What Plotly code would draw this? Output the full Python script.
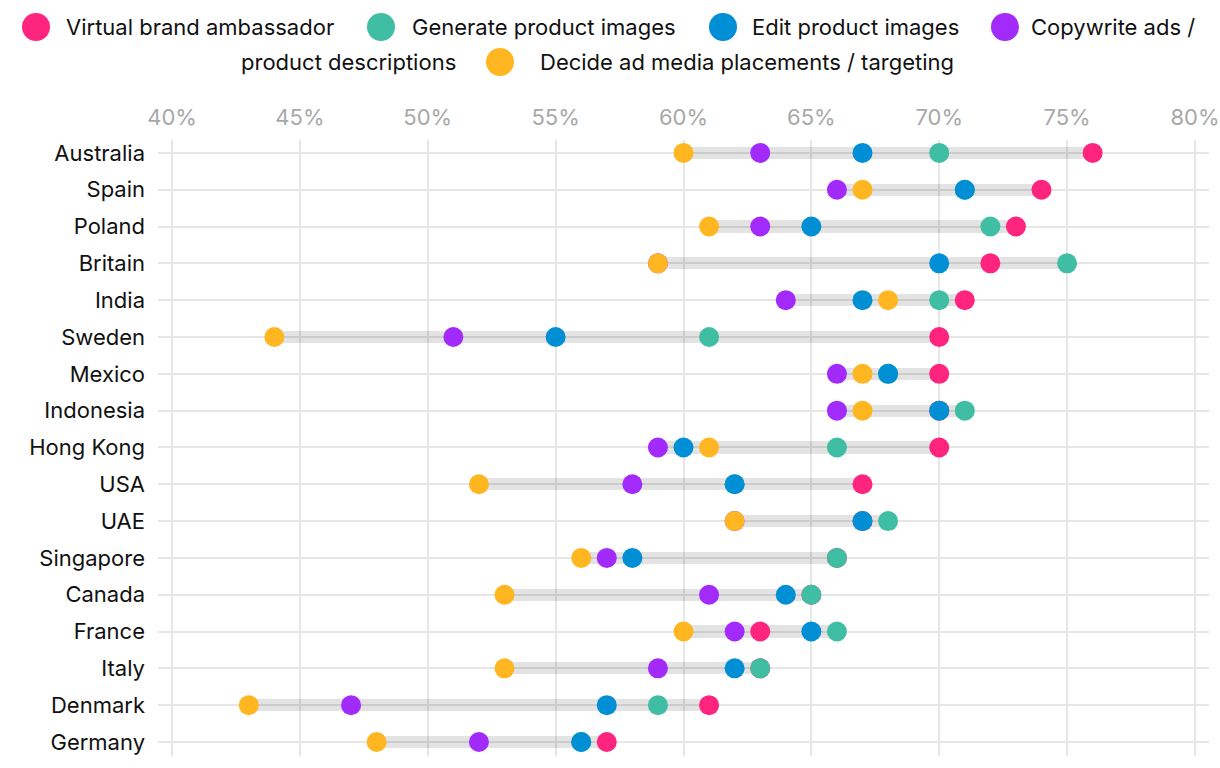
import plotly.graph_objects as go

countries = ["Australia", "Spain", "Poland", "Britain", "India", "Sweden", "Mexico",
             "Indonesia", "Hong Kong", "USA", "UAE", "Singapore", "Canada", "France",
             "Italy", "Denmark", "Germany"]
ambassador = [76, 74, 73, 72, 71, 70, 70, 70, 70, 67, 67, 66, 65, 63, 63, 61, 57]
generate = [70, 71, 72, 75, 70, 61, 68, 71, 66, 62, 68, 66, 65, 66, 63, 59, 56]
edit = [67, 71, 65, 70, 67, 55, 68, 70, 60, 62, 67, 58, 64, 65, 62, 57, 56]
copywrite = [63, 66, 63, 59, 64, 51, 66, 66, 59, 58, 62, 57, 61, 62, 59, 47, 52]
placements = [60, 67, 61, 59, 68, 44, 67, 67, 61, 52, 62, 56, 53, 60, 53, 43, 48]

series_names = ["Virtual brand ambassador", "Generate product images", "Edit product images",
                "Copywrite ads / product descriptions", "Decide ad media placements / targeting"]
series_values = [ambassador, generate, edit, copywrite, placements]
colors = ["#ff247e", "#40bea3", "#008fd5", "#a22bfb", "#ffb620"]

tick_values = [40, 45, 50, 55, 60, 65, 70, 75, 80]
tick_labels = ["40%", "45%", "50%", "55%", "60%", "65%", "70%", "75%", "80%"]

FONT = "Inter, 'Open Sans', sans-serif"
W, H = 1220, 764
L, T = 158, 140
PW, PH = 1051, 616
R, B = W - L - PW, H - T - PH


def px(x):
    return (x - L) / PW


def py(y):
    return (T + PH - y) / PH


fig = go.Figure()

lows = [min(v) for v in zip(*series_values)]
highs = [max(v) for v in zip(*series_values)]
fig.add_trace(go.Bar(
    y=countries, x=[h - l for h, l in zip(highs, lows)], base=lows, orientation="h",
    width=0.33, marker=dict(color="rgba(0,0,0,0.11)", line=dict(width=0)),
    showlegend=False, hoverinfo="skip"))

for name, vals, col in zip(series_names, series_values, colors):
    fig.add_trace(go.Scatter(
        x=vals, y=countries, mode="markers", name=name,
        marker=dict(size=20, color=col, line=dict(width=0)),
        showlegend=False))

# manual legend: (circle x, row y, text centre x, text, colour index)
legend_rows = [
    (36, 27, 200, "Virtual brand ambassador", 0),
    (381, 27, 543.5, "Generate product images", 1),
    (723, 27, 855, "Edit product images", 2),
    (1005, 27, 1112.5, "Copywrite ads /", 3),
    (500, 62, 746.5, "Decide ad media placements / targeting", 4),
]
shapes = []
annotations = []
r = 14
LFONT = dict(family=FONT, size=22, color="#111111")
for cx, cy, tx, txt, idx in legend_rows:
    shapes.append(dict(type="circle", xref="paper", yref="paper",
                       xsizemode="pixel", ysizemode="pixel",
                       xanchor=px(cx), yanchor=py(cy),
                       x0=-r, x1=r, y0=-r, y1=r,
                       fillcolor=colors[idx], line=dict(width=0)))
    annotations.append(dict(x=px(tx), y=py(cy), xref="paper", yref="paper",
                            text=txt, showarrow=False, xanchor="center", yanchor="middle",
                            font=LFONT))
annotations.append(dict(x=px(348.5), y=py(62), xref="paper", yref="paper",
                        text="product descriptions", showarrow=False,
                        xanchor="center", yanchor="middle", font=LFONT))

fig.update_layout(
    width=W, height=H,
    margin=dict(l=L, r=R, t=T, b=B, autoexpand=False),
    paper_bgcolor="white", plot_bgcolor="white",
    font=dict(family=FONT),
    showlegend=False,
    bargap=0,
    shapes=shapes,
    annotations=annotations,
    xaxis=dict(
        side="top", range=[39.45, 80.55],
        tickvals=tick_values, ticktext=tick_labels,
        tickfont=dict(size=22, color="#a8a8a8", family=FONT),
        showgrid=True, gridcolor="#e6e6e6", gridwidth=2,
        zeroline=False, showline=False, ticks="", ticklabelstandoff=10,
        automargin=False, ticklabeloverflow="allow",
    ),
    yaxis=dict(
        type="category", categoryorder="array", categoryarray=countries,
        range=[16.38, -0.35],
        tickfont=dict(size=22, color="#111111", family=FONT),
        showgrid=True, gridcolor="#e6e6e6", gridwidth=2,
        zeroline=False, showline=False, ticks="", ticklabelstandoff=12,
        automargin=False,
    ),
)

fig.write_html(
    "out.html",
    config={"displayModeBar": False},
    post_script="document.body.style.margin='0';"
                "document.documentElement.style.overflow='hidden';"
                "document.body.style.overflow='hidden';",
)
